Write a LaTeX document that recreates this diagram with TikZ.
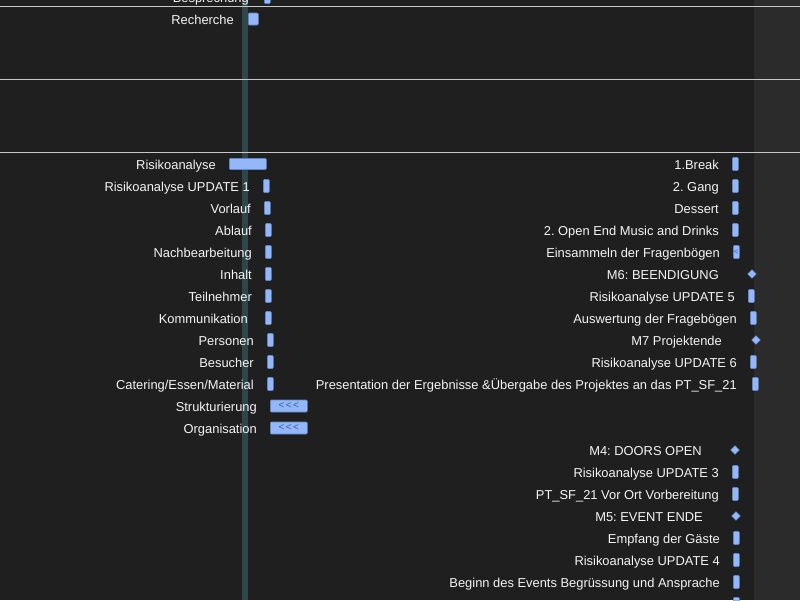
\documentclass[tikz,border=0pt]{standalone}
\usepackage{fontspec}
\setmainfont{Liberation Sans}
\usetikzlibrary{shapes.geometric}
\frenchspacing

\definecolor{bg}{HTML}{1F1F1F}
\definecolor{bgside}{HTML}{2B2B2B}
\definecolor{gridrule}{HTML}{C8C8C8}
\definecolor{todayband}{HTML}{2E4649}
\definecolor{barfill}{HTML}{93B7F7}
\definecolor{baredge}{HTML}{5F86CC}
\definecolor{labeltext}{HTML}{F4F4F4}
\definecolor{chevron}{HTML}{3A5DB0}

\tikzset{
  tasklabel/.style={anchor=base east, text=labeltext, inner sep=0pt,
    font=\fontsize{12.9}{15}\selectfont},
  taskbar/.style={draw=baredge, fill=barfill, line width=0.6pt,
    rounded corners=1pt, inner sep=0pt, minimum height=13pt,
    minimum width=6pt, anchor=west},
  groupbar/.style={taskbar, minimum width=37pt, minimum height=12pt,
    text=chevron, font=\fontsize{10}{10}\selectfont},
  milestone/.style={diamond, fill=barfill, draw=baredge, line width=0.4pt,
    inner sep=0pt, minimum width=9pt, minimum height=9pt},
}
% three left chevrons, kept apart so no ligature forms
\newcommand{\chevrons}{<\kern1.5pt{}<\kern1.5pt{}<}

\begin{document}
\begin{tikzpicture}[x=1pt,y=-1pt]
\useasboundingbox (0,0) rectangle (800,600);
\begin{scope}
\clip (0,0) rectangle (800,600);

% background panels
\fill[bg] (0,0) rectangle (754,600);
\fill[bgside] (754,0) rectangle (800,600);
% today marker
\fill[todayband] (242,0) rectangle (248,600);
% section rules
\foreach \ry in {6,79,152}
  \draw[gridrule, line width=0.8pt] (0,\ry) -- (800,\ry);

% ---- upper section ----
\node[tasklabel] (l-bes) at (249,2) {Besprechung};
\node[taskbar] (b-bes) at (264,-3) {};
\node[tasklabel] (l-rec) at (234,24) {Recherche};
\node[taskbar, minimum width=10pt, minimum height=12pt] (b-rec) at (248,19) {};

% ---- left column ----
\node[tasklabel] (l-ra)  at (216,169) {Risikoanalyse};
\node[taskbar, minimum width=37pt, minimum height=11pt] (b-ra) at (229,164) {};
\node[tasklabel] (l-ru1) at (250,191) {Risikoanalyse UPDATE 1};
\node[taskbar] (b-ru1) at (263,186) {};
\node[tasklabel] (l-vor) at (251,213) {Vorlauf};
\node[taskbar] (b-vor) at (264,208) {};
\node[tasklabel] (l-abl) at (252,235) {Ablauf};
\node[taskbar] (b-abl) at (265,230) {};
\node[tasklabel] (l-nach) at (252,257) {Nachbearbeitung};
\node[taskbar] (b-nach) at (265,252) {};
\node[tasklabel] (l-inh) at (252,279) {Inhalt};
\node[taskbar] (b-inh) at (265,274) {};
\node[tasklabel] (l-tei) at (252,301) {Teilnehmer};
\node[taskbar] (b-tei) at (265,296) {};
\node[tasklabel] (l-kom) at (248,323) {Kommunikation};
\node[taskbar] (b-kom) at (265,318) {};
\node[tasklabel] (l-per) at (254,345) {Personen};
\node[taskbar] (b-per) at (267,340) {};
\node[tasklabel] (l-besu) at (254,367) {Besucher};
\node[taskbar] (b-besu) at (267,362) {};
\node[tasklabel] (l-cat) at (254,389) {Catering/Essen/Material};
\node[taskbar] (b-cat) at (267,384) {};
\node[tasklabel] (l-str) at (257,411) {Strukturierung};
\node[groupbar] (b-str) at (270,406) {\chevrons};
\node[tasklabel] (l-org) at (257,433) {Organisation};
\node[groupbar] (b-org) at (270,428) {\chevrons};

% ---- right column, upper block ----
\node[tasklabel] (l-brk) at (719,169) {1.Break};
\node[taskbar] (b-brk) at (732,164) {};
\node[tasklabel] (l-gang) at (719,191) {2. Gang};
\node[taskbar] (b-gang) at (732,186) {};
\node[tasklabel] (l-des) at (719,213) {Dessert};
\node[taskbar] (b-des) at (732,208) {};
\node[tasklabel] (l-open) at (719,235) {2. Open End Music and Drinks};
\node[taskbar] (b-open) at (732,230) {};
\node[tasklabel] (l-ein) at (720,257) {Einsammeln der Fragenbögen};
\node[taskbar, text=chevron, font=\fontsize{8}{8}\selectfont] (b-ein) at (733,252) {<};
\node[tasklabel] (l-m6) at (719,279) {M6: BEENDIGUNG};
\node[milestone] (m-m6) at (752,274) {};
\node[tasklabel] (l-ru5) at (735,301) {Risikoanalyse UPDATE 5};
\node[taskbar] (b-ru5) at (748,296) {};
\node[tasklabel] (l-aus) at (737,323) {Auswertung der Fragebögen};
\node[taskbar] (b-aus) at (750,318) {};
\node[tasklabel] (l-m7) at (722,345) {M7 Projektende};
\node[milestone] (m-m7) at (756,340) {};
\node[tasklabel] (l-ru6) at (737,367) {Risikoanalyse UPDATE 6};
\node[taskbar] (b-ru6) at (750,362) {};
\node[tasklabel] (l-pres) at (737,389) {Presentation der Ergebnisse \&Übergabe des Projektes an das PT\_SF\_21};
\node[taskbar] (b-pres) at (752,384) {};

% ---- right column, lower block ----
\node[tasklabel] (l-m4) at (702,455) {M4: DOORS OPEN};
\node[milestone] (m-m4) at (735,450) {};
\node[tasklabel] (l-ru3) at (719,477) {Risikoanalyse UPDATE 3};
\node[taskbar] (b-ru3) at (732,472) {};
\node[tasklabel] (l-ort) at (719,499) {PT\_SF\_21 Vor Ort Vorbereitung};
\node[taskbar] (b-ort) at (732,494) {};
\node[tasklabel] (l-m5) at (703,521) {M5: EVENT ENDE};
\node[milestone] (m-m5) at (736,516) {};
\node[tasklabel] (l-emp) at (720,543) {Empfang der Gäste};
\node[taskbar] (b-emp) at (733,538) {};
\node[tasklabel] (l-ru4) at (720,565) {Risikoanalyse UPDATE 4};
\node[taskbar] (b-ru4) at (733,560) {};
\node[tasklabel] (l-beg) at (720,587) {Beginn des Events Begrüssung und Ansprache};
\node[taskbar] (b-beg) at (733,582) {};
\node[taskbar] (b-next) at (733,604) {};
\end{scope}
\end{tikzpicture}
\end{document}
